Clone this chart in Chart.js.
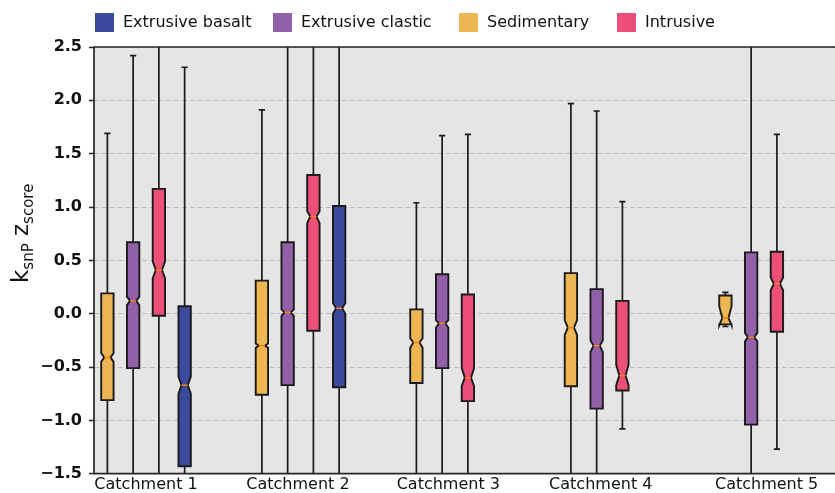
<!DOCTYPE html>
<html><head><meta charset="utf-8">
<script src="https://cdn.jsdelivr.net/npm/chart.js@4"></script>
<style>html,body{margin:0;padding:0;background:#fff}</style>
</head><body>
<canvas id="c" width="835" height="493"></canvas>
<script>
// ---------- data ----------
const catchments = ['Catchment 1', 'Catchment 2', 'Catchment 3', 'Catchment 4', 'Catchment 5'];
const lithologies = ['Extrusive basalt', 'Extrusive clastic', 'Sedimentary', 'Intrusive'];
const yTickValues = [-1.5, -1.0, -0.5, 0.0, 0.5, 1.0, 1.5, 2.0, 2.5];
// box stats per catchment: [whisker low, q1, notch low, median, notch high, q3, whisker high]
const sedimentaryStats = [
  [-2.0, -0.81, -0.45, -0.41, -0.37, 0.19, 1.69],
  [-2.0, -0.76, -0.32, -0.30, -0.28, 0.31, 1.91],
  [-2.0, -0.65, -0.32, -0.27, -0.23, 0.04, 1.04],
  [-2.0, -0.68, -0.20, -0.13, -0.06, 0.38, 1.97],
  [-0.12, -0.10, -0.11, -0.04, 0.07, 0.17, 0.20]
];
const clasticStats = [
  [-2.0, -0.51, 0.08, 0.12, 0.16, 0.67, 2.42],
  [-2.0, -0.67, -0.02, 0.01, 0.04, 0.67, 3.0],
  [-2.0, -0.51, -0.13, -0.09, -0.06, 0.37, 1.67],
  [-2.0, -0.89, -0.36, -0.30, -0.25, 0.23, 1.90],
  [-2.0, -1.04, -0.26, -0.22, -0.18, 0.575, 3.0]
];
const intrusiveStats = [
  [-2.0, -0.02, 0.33, 0.41, 0.49, 1.17, 3.0],
  [-2.0, -0.16, 0.85, 0.91, 0.96, 1.30, 3.0],
  [-2.0, -0.82, -0.68, -0.60, -0.51, 0.18, 1.68],
  [-1.08, -0.72, -0.67, -0.58, -0.48, 0.12, 1.05],
  [-1.27, -0.17, 0.22, 0.28, 0.34, 0.58, 1.68]
];
const basaltStats = [
  [-2.0, -1.43, -0.75, -0.67, -0.59, 0.07, 2.31],
  [-2.0, -0.69, 0.00, 0.05, 0.10, 1.01, 3.0],
  null, null, null
];

// ---------- layout / style ----------
const groupPos = [0, 1.5, 3.0, 4.5, 6.0];
const labelPos = [0.375, 1.85, 3.31, 4.79, 6.40];
const legendX = [95, 273, 459, 617];
const boxWidth = 0.12;
const series = [
  {label: 'Sedimentary', stats: sedimentaryStats, slot: 0, color: '#eeb553'},
  {label: 'Extrusive clastic', stats: clasticStats, slot: 1, color: '#9160a9'},
  {label: 'Intrusive', stats: intrusiveStats, slot: 2, color: '#ec5078'},
  {label: 'Extrusive basalt', stats: basaltStats, slot: 3, color: '#3b4a9c'}
];
const colorOf = {};
series.forEach(s => colorOf[s.label] = s.color);
const FONT = 'DejaVu Sans';

const boxPlugin = {
  id: 'boxes',
  beforeDraw(chart) {
    const {ctx, chartArea: a} = chart;
    ctx.save();
    ctx.fillStyle = '#e5e5e5';
    ctx.fillRect(a.left, a.top, a.right - a.left, a.bottom - a.top);
    ctx.restore();
  },
  afterDatasetsDraw(chart) {
    const {ctx, chartArea: a, scales: {x, y}} = chart;
    ctx.save();
    ctx.beginPath();
    ctx.rect(a.left, a.top, a.right - a.left, a.bottom - a.top);
    ctx.clip();
    const line = (x1, y1, x2, y2) => { ctx.beginPath(); ctx.moveTo(x1, y1); ctx.lineTo(x2, y2); ctx.stroke(); };
    series.forEach(s => {
      s.stats.forEach((st, ci) => {
        if (!st) return;
        const pos = groupPos[ci] + s.slot * 0.25;
        const cx = x.getPixelForValue(pos);
        const hw = x.getPixelForValue(pos + boxWidth / 2) - cx;
        const [wlo, q1, clo, med, chi, q3, whi] = st.map(v => y.getPixelForValue(v));
        ctx.strokeStyle = '#1a1a1a';
        ctx.lineWidth = 1.7;
        ctx.setLineDash([]);
        line(cx, q1, cx, wlo);
        line(cx, q3, cx, whi);
        line(cx - hw / 2, wlo, cx + hw / 2, wlo);
        line(cx - hw / 2, whi, cx + hw / 2, whi);
        const L = cx - hw, R = cx + hw, nL = cx - hw / 2, nR = cx + hw / 2;
        ctx.beginPath();
        ctx.moveTo(L, q1); ctx.lineTo(R, q1); ctx.lineTo(R, clo); ctx.lineTo(nR, med);
        ctx.lineTo(R, chi); ctx.lineTo(R, q3); ctx.lineTo(L, q3); ctx.lineTo(L, chi);
        ctx.lineTo(nL, med); ctx.lineTo(L, clo); ctx.closePath();
        ctx.fillStyle = s.color;
        ctx.fill();
        ctx.lineJoin = 'miter';
        ctx.lineWidth = 1.9;
        ctx.stroke();
        ctx.strokeStyle = '#ff7f0e';
        ctx.lineWidth = 1.5;
        line(nL, med, nR, med);
      });
    });
    ctx.restore();
    // spines
    ctx.save();
    ctx.strokeStyle = '#262626';
    ctx.lineWidth = 1.7;
    ctx.beginPath();
    ctx.moveTo(a.right + 2, a.top); ctx.lineTo(a.left, a.top); ctx.lineTo(a.left, a.bottom); ctx.lineTo(a.right + 2, a.bottom);
    ctx.stroke();
    ctx.restore();
  },
  afterDraw(chart) {
    const {ctx} = chart;
    // legend
    ctx.save();
    ctx.font = '16px "' + FONT + '"';
    ctx.textBaseline = 'middle';
    ctx.textAlign = 'left';
    lithologies.forEach((name, i) => {
      const lx = legendX[i];
      ctx.fillStyle = colorOf[name];
      ctx.fillRect(lx, 13, 19, 19);
      ctx.fillStyle = '#111';
      ctx.fillText(name, lx + 28, 23);
    });
    ctx.restore();
    // y-axis title with subscripts
    ctx.save();
    ctx.translate(28, 283);
    ctx.rotate(-Math.PI / 2);
    ctx.fillStyle = '#111';
    ctx.textBaseline = 'alphabetic';
    ctx.textAlign = 'left';
    const parts = [['k', 23, 0], ['snP', 15, 5], [' z', 23, 0], ['score', 15, 5]];
    let tx = 0;
    parts.forEach(([t, size, dy]) => {
      ctx.font = size + 'px "' + FONT + '"';
      ctx.fillText(t, tx, dy);
      tx += ctx.measureText(t).width;
    });
    ctx.restore();
  }
};

new Chart(document.getElementById('c'), {
  type: 'scatter',
  data: {
    datasets: series.map(s => ({label: s.label, data: [], backgroundColor: s.color}))
  },
  options: {
    responsive: false,
    animation: false,
    events: [],
    layout: {padding: {top: 47, left: 0, right: 0, bottom: 0}},
    plugins: {legend: {display: false}, tooltip: {enabled: false}},
    scales: {
      x: {
        type: 'linear', min: -0.13, max: 7.064,
        afterBuildTicks: s => { s.ticks = labelPos.map(v => ({value: v})); },
        afterFit: s => { s.height = 493 - 473.7; },
        ticks: {
          callback: (v, i) => catchments[i],
          font: {family: FONT, size: 16}, color: '#111',
          padding: 2, autoSkip: false, maxRotation: 0, minRotation: 0
        },
        grid: {display: false, drawTicks: false},
        border: {display: false}
      },
      y: {
        type: 'linear', min: -1.5, max: 2.5,
        afterBuildTicks: s => { s.ticks = yTickValues.map(v => ({value: v})); },
        afterFit: s => { s.width = 94; },
        ticks: {
          callback: v => v.toFixed(1).replace('-', '\u2212'),
          font: {family: FONT, size: 16, weight: 'bold'}, color: '#111', padding: 7
        },
        grid: {color: '#bdbdbd', lineWidth: 1, drawTicks: true, tickLength: 5, tickColor: '#262626', tickWidth: 1.5},
        border: {display: false, dash: [5, 3]}
      }
    }
  },
  plugins: [boxPlugin]
});
</script>
</body></html>
